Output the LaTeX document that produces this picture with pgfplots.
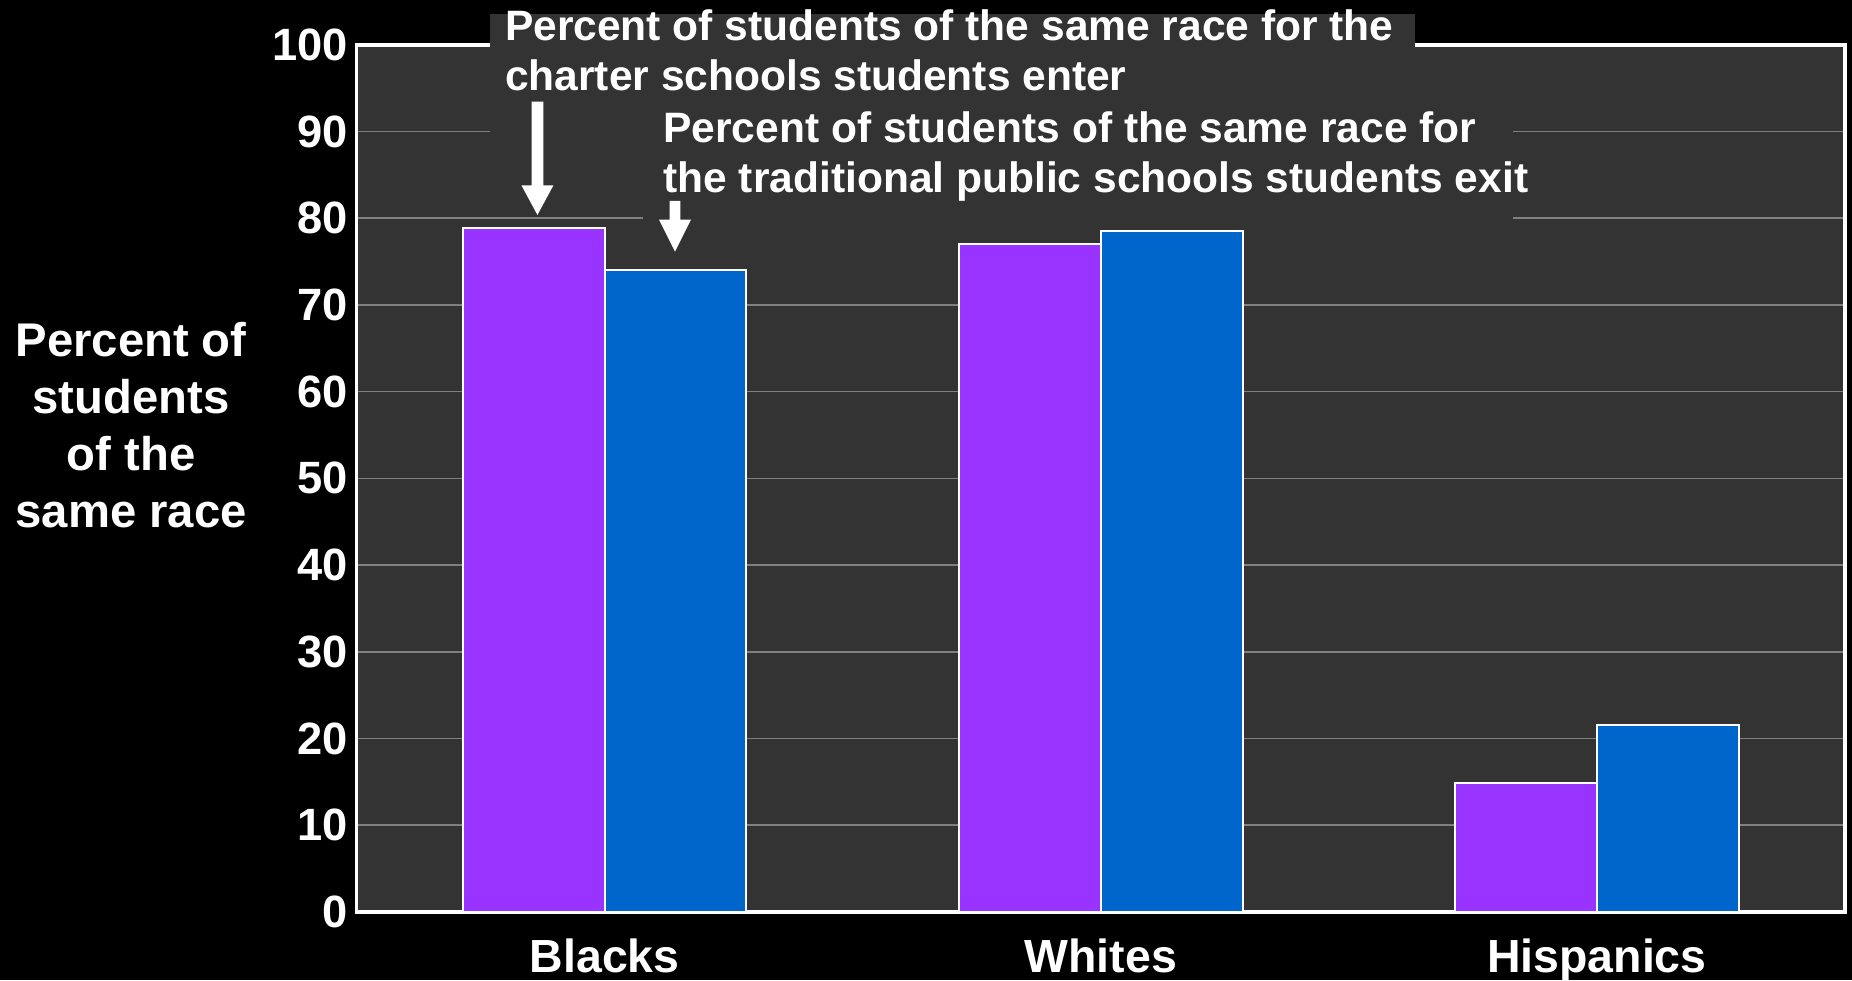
\documentclass[border=0pt]{standalone}
\usepackage{pgfplots}
\pgfplotsset{compat=1.18}
\usepackage{fontspec}
\setmainfont{Liberation Sans}
\definecolor{bgc}{RGB}{51,51,51}
\definecolor{pur}{RGB}{153,51,255}
\definecolor{blu}{RGB}{0,102,204}
\definecolor{grd}{RGB}{128,128,128}
\begin{document}
\begin{tikzpicture}
\fill[black] (-90.6pt,-17.4pt) rectangle (379.8pt,231.6pt);
\useasboundingbox (-90.6pt,-17.4pt) rectangle (379.8pt,231.6pt);
\begin{axis}[
  at={(0,0)}, anchor=south west,
  scale only axis, width=378pt, height=220.2pt,
  xmin=-0.5, xmax=2.5, ymin=0, ymax=100,
  xtick={0,1,2}, xticklabels={Blacks,Whites,Hispanics},
  ytick={0,10,...,100},
  ymajorgrids, major grid style={grd, line width=0.4pt},
  axis background/.style={fill=bgc},
  axis line style={white, line width=0.9pt},
  major tick length=0pt,
  tick label style={white},
  yticklabel style={font=\fontsize{11.5}{12}\selectfont\bfseries, inner xsep=0pt, xshift=-2pt},
  xticklabel style={font=\fontsize{11.8}{12}\selectfont\bfseries, anchor=base, yshift=-15.3pt},
  /pgf/number format/assume math mode=true,
  ybar, bar width=0.2857,
]
\addplot[fill=pur, draw=white, line width=0.5pt, bar shift=-0.142857] coordinates {(0,78.9) (1,77.0) (2,14.9)};
\addplot[fill=blu, draw=white, line width=0.5pt, bar shift=0.142857] coordinates {(0,74.0) (1,78.5) (2,21.5)};
\end{axis}
\begin{scope}[shift={(-90.6pt,231.6pt)}, x=0.3pt, y=-0.3pt]
\fill[bgc] (415,12) rectangle (1198,160);
\fill[bgc] (544,88) rectangle (1281,190);
\tikzset{ann/.style={white, anchor=base west, inner sep=0pt, font=\fontsize{10.8}{13}\selectfont\bfseries}}
\node[ann] at (427,34) {Percent of students of the same race for the};
\node[ann] at (427,77) {charter schools students enter};
\node[ann] at (561,121) {Percent of students of the same race for};
\node[ann] at (561,163) {the traditional public schools students exit};
\fill[white] (450,86) -- (460,86) -- (460,157) -- (468.5,157) -- (455,182) -- (441.5,157) -- (450,157) -- cycle;
\fill[white] (567,170) -- (576,170) -- (576,186) -- (585,186) -- (571.5,213) -- (558,186) -- (567,186) -- cycle;
\node[white, align=center, font=\fontsize{12}{14.5}\selectfont\bfseries] at (111,360) {Percent of\\students\\of the\\same race};
\end{scope}
\end{tikzpicture}
\end{document}
